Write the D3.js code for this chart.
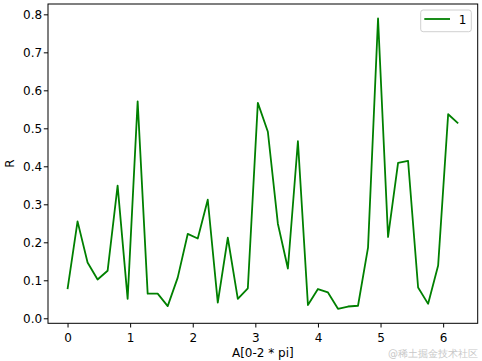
<!DOCTYPE html>
<html>
<head>
<meta charset="utf-8">
<script src="https://cdn.jsdelivr.net/npm/d3@7"></script>
<style>
  body { margin: 0; background: #fff; }
  text { font-family: "DejaVu Sans", sans-serif; }
</style>
</head>
<body>
<script>
// x positions, 0 .. ~2*pi
var xVals = [0, 0.16, 0.32, 0.48, 0.64, 0.8, 0.96, 1.12, 1.28, 1.44,
    1.6, 1.76, 1.92, 2.08, 2.24, 2.4, 2.56, 2.72, 2.88, 3.04,
    3.2, 3.36, 3.52, 3.68, 3.84, 4.0, 4.16, 4.32, 4.48, 4.64,
    4.8, 4.96, 5.12, 5.28, 5.44, 5.6, 5.76, 5.92, 6.08, 6.24];
// series "1"
var rVals = [0.077, 0.255, 0.147, 0.102, 0.125, 0.349, 0.051, 0.571, 0.065, 0.065,
    0.032, 0.107, 0.222, 0.210, 0.312, 0.041, 0.212, 0.051, 0.079, 0.567,
    0.491, 0.249, 0.131, 0.466, 0.035, 0.077, 0.068, 0.025, 0.031, 0.033,
    0.186, 0.789, 0.214, 0.409, 0.414, 0.081, 0.038, 0.139, 0.537, 0.513];
var xTicks = [0, 1, 2, 3, 4, 5, 6];
var yTicks = [0.0, 0.1, 0.2, 0.3, 0.4, 0.5, 0.6, 0.7, 0.8];
var seriesName = "1";

const W = 482, H = 361;
const margin = {left: 48, right: 4.3, top: 4, bottom: 37.7};
const iw = W - margin.left - margin.right;
const ih = H - margin.top - margin.bottom;
const fs = "12px";

const data = xVals.map((x, i) => ({x: x, y: rVals[i]}));

// matplotlib style 5% margins
function pad(ext) {
    const r = ext[1] - ext[0];
    return [ext[0] - 0.05 * r, ext[1] + 0.05 * r];
}

const x = d3.scaleLinear().domain(pad(d3.extent(xVals))).range([0, iw]);
const y = d3.scaleLinear().domain(pad(d3.extent(rVals))).range([ih, 0]);

const svg = d3.select("body").append("svg")
    .attr("width", W)
    .attr("height", H);

const g = svg.append("g")
    .attr("transform", "translate(" + margin.left + "," + margin.top + ")");

const xAxis = g.append("g")
    .attr("transform", "translate(0," + ih + ")")
    .call(d3.axisBottom(x).tickValues(xTicks).tickFormat(d3.format("d")).tickSize(4.2).tickPadding(5.8));
const yAxis = g.append("g")
    .call(d3.axisLeft(y).tickValues(yTicks).tickFormat(d3.format(".1f")).tickSize(4.2).tickPadding(1.6));

[xAxis, yAxis].forEach(a => {
    a.select(".domain").remove();
    a.selectAll("line").attr("stroke", "#000").attr("stroke-width", 1);
    a.selectAll("text")
        .attr("font-family", "DejaVu Sans, sans-serif")
        .attr("font-size", fs)
        .attr("fill", "#000");
});

const line = d3.line().x(d => x(d.x)).y(d => y(d.y));
g.append("path")
    .datum(data)
    .attr("fill", "none")
    .attr("stroke", "#008000")
    .attr("stroke-width", 1.8)
    .attr("stroke-linejoin", "round")
    .attr("d", line);

// frame
g.append("rect")
    .attr("width", iw)
    .attr("height", ih)
    .attr("fill", "none")
    .attr("stroke", "#000")
    .attr("stroke-width", 1);

// axis labels
svg.append("text")
    .attr("x", margin.left + iw / 2)
    .attr("y", 357)
    .attr("text-anchor", "middle")
    .attr("font-size", fs)
    .text("A[0-2 * pi]");
svg.append("text")
    .attr("transform", "translate(13.5," + (margin.top + ih / 2) + ") rotate(-90)")
    .attr("text-anchor", "middle")
    .attr("font-size", fs)
    .text("R");

// legend
const lg = g.append("g").attr("transform", "translate(" + (iw - 57) + ",6)");
lg.append("rect")
    .attr("width", 50.6)
    .attr("height", 21.7)
    .attr("rx", 2.5)
    .attr("fill", "#fff")
    .attr("fill-opacity", 0.8)
    .attr("stroke", "#d0d0d0")
    .attr("stroke-width", 1);
lg.append("line")
    .attr("x1", 3.6).attr("x2", 29.3)
    .attr("y1", 9).attr("y2", 9)
    .attr("stroke", "#008000")
    .attr("stroke-width", 1.8);
lg.append("text")
    .attr("x", 38)
    .attr("y", 14)
    .attr("font-size", fs)
    .text(seriesName);

// watermark
svg.append("text")
    .attr("x", 478)
    .attr("y", 356.5)
    .attr("text-anchor", "end")
    .attr("font-family", "Noto Sans CJK SC, sans-serif")
    .attr("font-size", "10px")
    .attr("fill", "#c8c8c8")
    .text("@稀土掘金技术社区");
</script>
</body>
</html>
